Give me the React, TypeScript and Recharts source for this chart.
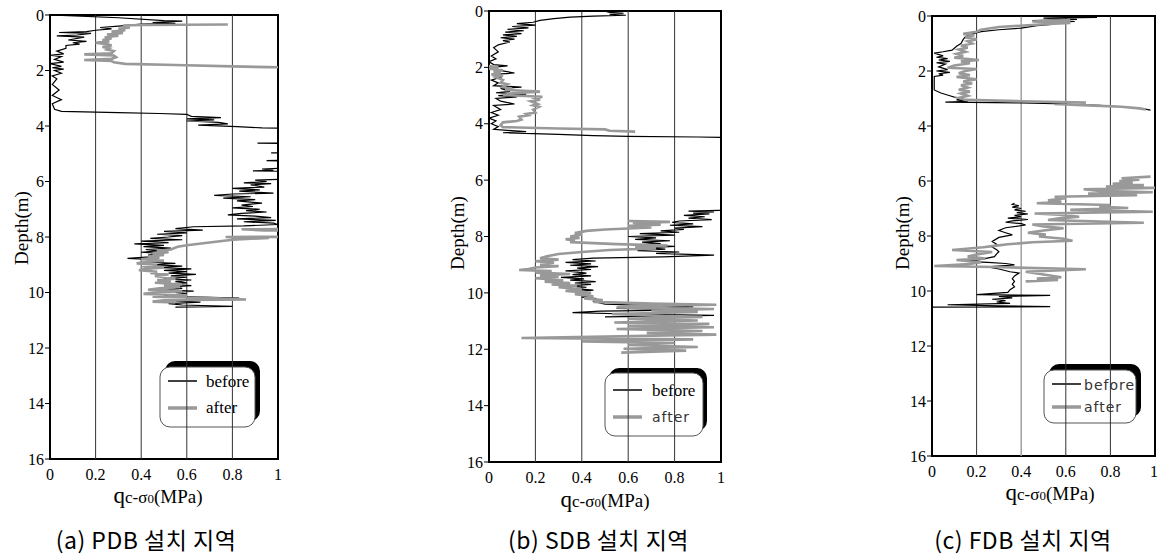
import { LineChart, Line, XAxis, YAxis, ReferenceLine, ReferenceArea, Customized } from 'recharts'

type Pt = [number, number]

const depthTicks = [0, 2, 4, 6, 8, 10, 12, 14, 16]
const qTicks = [0, 0.2, 0.4, 0.6, 0.8, 1]
const captions = ['(a) PDB 설치 지역', '(b) SDB 설치 지역', '(c) FDB 설치 지역']

// [depth (m), qc - sigma0 (MPa)]; values past 1 run off the frame and get clipped.
// Each series is a list of runs; a new run starts where the record has a gap.
const aBefore: Pt[][] = [[
  [0, 0], [0.02, 0.08], [0.1, 0.3], [0.2, 0.5], [0.22, 0.58], [0.27, 0.45], [0.3, 0.55], [0.33, 0.4],
  [0.4, 0.3], [0.45, 0.22], [0.5, 0.27], [0.55, 0.2], [0.6, 0.16], [0.63, 0.04], [0.66, 0.18], [0.72, 0.12],
  [0.75, 0.03], [0.8, 0.15], [0.9, 0.08], [0.95, 0.16], [1.0, 0.1], [1.05, 0.13], [1.1, 0.07], [1.2, 0.07],
  [1.3, 0.03], [1.4, 0.06], [1.45, 0.0], [1.5, 0.05], [1.6, 0.02], [1.7, 0.06], [1.75, 0.0], [1.85, 0.05],
  [1.9, 0.01], [1.95, 0.06], [2.0, 0.02], [2.1, 0.05], [2.2, 0.01], [2.3, 0.03], [2.5, 0.01], [2.7, 0.04],
  [2.9, 0.01], [3.05, 0.05], [3.2, 0.01], [3.4, 0.02], [3.47, 0.05], [3.52, 0.3], [3.55, 0.48], [3.58, 0.6],
  [3.65, 0.62], [3.7, 0.75], [3.74, 0.6], [3.78, 0.72], [3.82, 0.6], [3.87, 0.74], [3.92, 0.78], [3.97, 0.65],
  [4.02, 0.82], [4.07, 0.93], [4.1, 1.5], [4.6, 1.5], [4.62, 0.91], [4.65, 1.5], [4.95, 1.5], [4.97, 0.97],
  [5.0, 1.5], [5.2, 1.2], [5.25, 0.95], [5.3, 1.1], [5.5, 1.1], [5.55, 0.93], [5.6, 0.98], [5.62, 0.89],
  [5.65, 1.2], [5.9, 1.1], [5.95, 0.9], [6.0, 0.95], [6.05, 0.85], [6.08, 0.97], [6.12, 0.88], [6.2, 0.94],
  [6.25, 0.8], [6.3, 0.92], [6.35, 0.83], [6.42, 0.98], [6.45, 0.8], [6.5, 0.72], [6.55, 0.88], [6.6, 0.76],
  [6.65, 0.9], [6.7, 0.82], [6.78, 0.93], [6.85, 0.84], [6.9, 0.89], [6.95, 0.8], [7.0, 0.92], [7.05, 0.86],
  [7.1, 0.95], [7.15, 0.84], [7.2, 0.78], [7.25, 0.9], [7.3, 0.97], [7.35, 0.82], [7.4, 0.99], [7.45, 0.85],
  [7.5, 0.98], [7.55, 1.0], [7.6, 0.85], [7.63, 0.63], [7.7, 0.55], [7.75, 0.67], [7.8, 0.5], [7.85, 0.6],
  [7.9, 0.47], [7.95, 0.58], [8.0, 0.52], [8.05, 0.44], [8.1, 0.58], [8.15, 0.4], [8.2, 0.52], [8.25, 0.37],
  [8.3, 0.5], [8.35, 0.41], [8.4, 0.53], [8.45, 0.42], [8.5, 0.47], [8.55, 0.4], [8.6, 0.5], [8.65, 0.43],
  [8.7, 0.47], [8.77, 0.34], [8.82, 0.46], [8.9, 0.42], [8.95, 0.55], [9.0, 0.45], [9.05, 0.58], [9.1, 0.47],
  [9.15, 0.62], [9.2, 0.5], [9.25, 0.6], [9.3, 0.52], [9.35, 0.64], [9.4, 0.53], [9.45, 0.6], [9.5, 0.5],
  [9.55, 0.62], [9.6, 0.55], [9.65, 0.6], [9.7, 0.5], [9.75, 0.62], [9.8, 0.53], [9.85, 0.58], [9.9, 0.49],
  [9.95, 0.63], [10.0, 0.55], [10.05, 0.6], [10.1, 0.5], [10.15, 0.58], [10.2, 0.83], [10.25, 0.6], [10.3, 0.55],
  [10.35, 0.66], [10.4, 0.52], [10.45, 0.58], [10.5, 0.8], [10.53, 0.55],
]]

const aAfter: Pt[][] = [[
  [0.34, 0.78], [0.36, 0.4], [0.38, 0.32], [0.45, 0.35], [0.5, 0.3], [0.55, 0.33], [0.6, 0.27], [0.65, 0.32],
  [0.7, 0.25], [0.75, 0.3], [0.8, 0.24], [0.85, 0.27], [0.9, 0.23], [0.95, 0.26], [1.0, 0.2], [1.05, 0.25],
  [1.1, 0.27], [1.15, 0.23], [1.2, 0.26], [1.25, 0.25], [1.3, 0.28], [1.38, 0.27], [1.42, 0.15], [1.46, 0.28],
  [1.52, 0.29], [1.58, 0.27], [1.62, 0.15], [1.66, 0.27], [1.7, 0.28], [1.76, 0.33], [1.8, 0.55], [1.85, 0.8],
  [1.88, 0.96], [1.9, 1.5], [7.7, 1.5], [7.72, 0.84], [7.76, 0.94], [7.78, 1.5], [7.98, 1.5], [8.0, 0.77],
  [8.03, 0.96], [8.1, 0.8], [8.2, 0.7], [8.3, 0.6], [8.35, 0.56], [8.45, 0.53], [8.5, 0.47], [8.55, 0.52],
  [8.6, 0.45], [8.65, 0.5], [8.7, 0.43], [8.75, 0.48], [8.8, 0.4], [8.85, 0.5], [8.9, 0.42], [8.95, 0.38],
  [9.0, 0.47], [9.05, 0.4], [9.1, 0.5], [9.15, 0.42], [9.2, 0.39], [9.25, 0.47], [9.3, 0.44], [9.35, 0.52],
  [9.4, 0.46], [9.5, 0.55], [9.55, 0.47], [9.6, 0.53], [9.65, 0.46], [9.7, 0.58], [9.75, 0.5], [9.8, 0.57],
  [9.85, 0.48], [9.9, 0.43], [9.95, 0.58], [10.0, 0.46], [10.05, 0.41], [10.1, 0.6], [10.15, 0.45], [10.2, 0.7],
  [10.25, 0.86], [10.28, 0.5], [10.33, 0.45], [10.36, 0.55],
]]

const bBefore: Pt[][] = [[
  [0, 0], [0.01, 0.5], [0.05, 0.52], [0.08, 0.58], [0.12, 0.52], [0.15, 0.59], [0.18, 0.45], [0.22, 0.35],
  [0.27, 0.28], [0.33, 0.22], [0.4, 0.19], [0.45, 0.12], [0.5, 0.2], [0.55, 0.1], [0.6, 0.17], [0.65, 0.08],
  [0.7, 0.15], [0.75, 0.07], [0.8, 0.14], [0.85, 0.06], [0.9, 0.12], [0.95, 0.05], [1.0, 0.11], [1.05, 0.06],
  [1.1, 0.09], [1.2, 0.04], [1.3, 0.02], [1.45, 0.04], [1.6, 0.01], [1.7, 0.03], [1.8, 0.0], [1.9, 0.02],
  [1.95, 0.08], [2.0, 0.01], [2.1, 0.04], [2.2, 0.11], [2.25, 0.02], [2.35, 0.05], [2.45, 0.01], [2.55, 0.04],
  [2.65, 0.02], [2.7, 0.14], [2.75, 0.05], [2.85, 0.09], [2.9, 0.03], [2.95, 0.16], [3.0, 0.04], [3.05, 0.12],
  [3.1, 0.03], [3.2, 0.05], [3.3, 0.11], [3.35, 0.02], [3.5, 0.05], [3.6, 0.01], [3.7, 0.04], [3.8, 0.0],
  [3.9, 0.03], [4.0, 0.01], [4.1, 0.04], [4.2, 0.02], [4.28, 0.16], [4.32, 0.06], [4.38, 0.3], [4.42, 0.45],
  [4.45, 0.6], [4.47, 0.9], [4.48, 1.0], [4.5, 1.5], [7.05, 1.5], [7.07, 0.99], [7.1, 0.86], [7.13, 0.97],
  [7.17, 0.88], [7.2, 0.95], [7.25, 0.84], [7.3, 0.93], [7.35, 0.86], [7.4, 0.96], [7.45, 0.82], [7.5, 0.79],
  [7.55, 0.88], [7.6, 0.78], [7.65, 0.92], [7.7, 0.8], [7.75, 0.84], [7.8, 0.74], [7.85, 0.82], [7.9, 0.65],
  [7.95, 0.8], [8.0, 0.6], [8.05, 0.72], [8.1, 0.63], [8.15, 0.78], [8.2, 0.66], [8.25, 0.74], [8.3, 0.62],
  [8.35, 0.8], [8.4, 0.68], [8.45, 0.76], [8.5, 0.64], [8.55, 0.82], [8.6, 0.72], [8.66, 0.97], [8.72, 0.75],
  [8.77, 0.45], [8.82, 0.36], [8.87, 0.46], [8.92, 0.33], [8.97, 0.44], [9.02, 0.35], [9.07, 0.47], [9.12, 0.38],
  [9.17, 0.44], [9.22, 0.33], [9.3, 0.42], [9.35, 0.36], [9.4, 0.44], [9.45, 0.31], [9.5, 0.41], [9.55, 0.35],
  [9.6, 0.46], [9.65, 0.37], [9.7, 0.44], [9.75, 0.34], [9.8, 0.42], [9.85, 0.37], [9.9, 0.45], [9.95, 0.39],
  [10.0, 0.43], [10.05, 0.38], [10.1, 0.44], [10.15, 0.4], [10.2, 0.46], [10.3, 0.45], [10.4, 0.5], [10.5, 0.88],
  [10.55, 0.55], [10.6, 0.9], [10.65, 0.48], [10.7, 0.36], [10.75, 0.6], [10.8, 0.97], [10.85, 0.5],
]]

const bAfter: Pt[][] = [
  [
    [1.95, 0.0], [2.0, 0.04], [2.05, 0.0], [2.1, 0.06], [2.15, 0.02], [2.2, 0.05], [2.25, 0.01], [2.3, 0.06],
    [2.35, 0.03], [2.45, 0.06], [2.55, 0.05], [2.6, 0.08], [2.7, 0.06], [2.75, 0.1], [2.8, 0.07], [2.86, 0.22],
    [2.92, 0.1], [2.98, 0.06], [3.04, 0.23], [3.1, 0.2], [3.15, 0.22], [3.2, 0.18], [3.3, 0.21], [3.35, 0.19],
    [3.4, 0.215], [3.5, 0.19], [3.6, 0.2], [3.65, 0.16], [3.7, 0.17], [3.75, 0.13], [3.85, 0.14], [3.9, 0.12],
    [3.95, 0.06], [4.05, 0.05], [4.12, 0.06], [4.17, 0.3], [4.2, 0.5], [4.25, 0.52], [4.28, 0.63],
  ],
  [
    [7.45, 0.6], [7.48, 0.78], [7.52, 0.62], [7.58, 0.74], [7.62, 0.6], [7.68, 0.7], [7.75, 0.5], [7.8, 0.42],
    [7.88, 0.37], [7.93, 0.4], [8.0, 0.35], [8.05, 0.39], [8.1, 0.33], [8.15, 0.37], [8.2, 0.35], [8.27, 0.55],
    [8.32, 0.77], [8.36, 0.63], [8.42, 0.72], [8.48, 0.52], [8.55, 0.4], [8.62, 0.3], [8.7, 0.25], [8.77, 0.22],
    [8.82, 0.3], [8.88, 0.2], [8.93, 0.28], [9.0, 0.22], [9.05, 0.3], [9.1, 0.2], [9.15, 0.17], [9.19, 0.13],
    [9.23, 0.27], [9.28, 0.2], [9.33, 0.35], [9.38, 0.22], [9.43, 0.3], [9.48, 0.2], [9.55, 0.32], [9.6, 0.24],
    [9.65, 0.35], [9.7, 0.27], [9.75, 0.38], [9.8, 0.3], [9.87, 0.4], [9.93, 0.33], [10.0, 0.44], [10.05, 0.37],
    [10.12, 0.45], [10.2, 0.41], [10.25, 0.49], [10.32, 0.45], [10.38, 0.7], [10.42, 0.98], [10.47, 0.6],
    [10.52, 0.55], [10.57, 0.97], [10.62, 0.7], [10.68, 0.9], [10.75, 0.53], [10.8, 0.68], [10.85, 0.92],
    [10.92, 0.6], [10.98, 0.9], [11.05, 0.54], [11.1, 0.95], [11.17, 0.6], [11.22, 0.97], [11.28, 0.55],
    [11.35, 0.92], [11.42, 0.68], [11.48, 0.98], [11.55, 0.5], [11.6, 0.14], [11.65, 0.88], [11.72, 0.4],
    [11.78, 0.8], [11.85, 0.6], [11.92, 0.9], [11.98, 0.58], [12.05, 0.85], [12.12, 0.57],
  ],
]

const cBefore: Pt[][] = [
  [
    [0, 0], [0.01, 0.45], [0.03, 0.6], [0.05, 0.74], [0.08, 0.5], [0.12, 0.65], [0.17, 0.45], [0.2, 0.64],
    [0.25, 0.5], [0.3, 0.55], [0.35, 0.47], [0.44, 0.4], [0.5, 0.3], [0.57, 0.22], [0.65, 0.18], [0.75, 0.15],
    [0.85, 0.14], [1.0, 0.13], [1.1, 0.11], [1.24, 0.09], [1.3, 0.05], [1.35, 0.01], [1.45, 0.05], [1.5, 0.02],
    [1.55, 0.07], [1.6, 0.03], [1.65, 0.08], [1.7, 0.02], [1.75, 0.06], [1.85, 0.03], [1.95, 0.07], [2.0, 0.02],
    [2.05, 0.08], [2.1, 0.03], [2.15, 0.05], [2.2, 0.01], [2.4, 0.01], [2.69, 0.01], [2.8, 0.04], [2.9, 0.08],
    [2.95, 0.1], [3.0, 0.14], [3.05, 0.11], [3.1, 0.16], [3.13, 0.06], [3.16, 0.4], [3.2, 0.6], [3.25, 0.75],
    [3.3, 0.85], [3.38, 0.95], [3.42, 0.98],
  ],
  [
    [6.81, 0.37], [6.85, 0.36], [6.9, 0.39], [6.95, 0.36], [7.0, 0.4], [7.05, 0.37], [7.1, 0.42], [7.15, 0.38],
    [7.2, 0.43], [7.25, 0.37], [7.3, 0.4], [7.35, 0.34], [7.4, 0.43], [7.45, 0.36], [7.5, 0.33], [7.55, 0.4],
    [7.6, 0.42], [7.7, 0.33], [7.8, 0.3], [7.88, 0.33], [7.96, 0.36], [8.05, 0.3], [8.15, 0.28], [8.2, 0.27],
    [8.3, 0.29], [8.4, 0.27], [8.5, 0.29], [8.57, 0.3], [8.65, 0.29], [8.75, 0.28], [8.87, 0.21], [8.92, 0.15],
    [8.96, 0.25], [9.0, 0.33], [9.05, 0.37], [9.12, 0.25], [9.2, 0.3], [9.3, 0.35], [9.35, 0.39], [9.45, 0.37],
    [9.55, 0.36], [9.65, 0.37], [9.75, 0.36], [9.85, 0.37], [9.95, 0.35], [10.05, 0.34], [10.13, 0.2],
    [10.16, 0.53], [10.2, 0.3], [10.25, 0.36], [10.3, 0.27], [10.35, 0.33], [10.4, 0.29], [10.45, 0.35],
    [10.5, 0.07], [10.54, 0.3], [10.57, 0.53], [10.59, 0.0],
  ],
]

const cAfter: Pt[][] = [
  [
    [0.15, 0.62], [0.2, 0.45], [0.25, 0.62], [0.3, 0.5], [0.4, 0.3], [0.5, 0.22], [0.57, 0.2], [0.65, 0.14],
    [0.7, 0.19], [0.78, 0.15], [0.85, 0.2], [0.92, 0.16], [1.0, 0.18], [1.08, 0.13], [1.15, 0.16], [1.22, 0.12],
    [1.3, 0.15], [1.38, 0.11], [1.45, 0.14], [1.52, 0.1], [1.6, 0.21], [1.65, 0.13], [1.72, 0.17], [1.8, 0.1],
    [1.88, 0.07], [1.93, 0.2], [2.0, 0.15], [2.08, 0.12], [2.15, 0.17], [2.22, 0.11], [2.3, 0.2], [2.38, 0.14],
    [2.45, 0.18], [2.52, 0.13], [2.6, 0.16], [2.68, 0.12], [2.75, 0.17], [2.82, 0.13], [2.9, 0.16], [2.98, 0.12],
    [3.05, 0.15], [3.1, 0.4], [3.15, 0.69], [3.2, 0.55], [3.25, 0.7], [3.3, 0.85], [3.36, 0.93], [3.4, 0.96],
  ],
  [
    [5.84, 0.98], [5.9, 0.85], [5.95, 0.93], [6.0, 0.84], [6.05, 0.9], [6.1, 0.81], [6.15, 0.95], [6.2, 0.78],
    [6.25, 1.0], [6.3, 0.68], [6.36, 0.75], [6.41, 0.99], [6.46, 0.7], [6.52, 0.92], [6.57, 0.55], [6.63, 0.6],
    [6.7, 0.52], [6.76, 0.58], [6.81, 0.47], [6.87, 0.8], [6.93, 0.75], [6.98, 0.88], [7.05, 0.62], [7.12, 0.99],
    [7.18, 0.46], [7.23, 0.57], [7.3, 0.66], [7.36, 0.57], [7.42, 0.52], [7.52, 0.95], [7.58, 0.45], [7.65, 0.5],
    [7.72, 0.59], [7.8, 0.5], [7.88, 0.43], [7.95, 0.51], [8.02, 0.48], [8.1, 0.59], [8.17, 0.63], [8.23, 0.45],
    [8.3, 0.34], [8.36, 0.28], [8.41, 0.23], [8.51, 0.09], [8.58, 0.27], [8.67, 0.2], [8.75, 0.16], [8.82, 0.24],
    [8.87, 0.11], [8.95, 0.22], [9.02, 0.17], [9.09, 0.01], [9.13, 0.28], [9.21, 0.69], [9.3, 0.42], [9.4, 0.5],
    [9.5, 0.58], [9.55, 0.47], [9.6, 0.565], [9.65, 0.42],
  ],
]

const rows = (pts: Pt[]) => pts.map(([d, q]) => ({ d, q }))

const SERIF = '"Liberation Serif", "Times New Roman", serif'
const SANS = '"DejaVu Sans", sans-serif'
const KR = '"Noto Sans CJK KR", "Noto Sans", sans-serif'
const H = 557

interface LegendSpec {
  x: number
  y: number
  w: number
  h: number
  sx: number
  sy: number
  lineX: number
  textX: number
  beforeY: number
  afterY: number
  beforeFont: string
  afterFont: string
  fontSize: number
}

interface PanelProps {
  left: number
  width: number
  margin: { top: number; right: number; bottom: number; left: number }
  before: Pt[][]
  after: Pt[][]
  caption: string
  depthX: number
  depthY: number
  titleX: number
  titleY: number
  captionX: number
  legend: LegendSpec
  greyMid?: boolean
}

function Overlay({ p }: { p: PanelProps }) {
  const L = p.legend
  const sans = (f: string) => f === SANS
  return (
    <g>
      <text
        x={p.depthX}
        y={p.depthY}
        transform={`rotate(-90 ${p.depthX} ${p.depthY})`}
        textAnchor="middle"
        dominantBaseline="central"
        fontFamily={SERIF}
        fontSize={19}
        fill="#000"
      >
        Depth(m)
      </text>
      <text x={p.titleX} y={p.titleY} textAnchor="middle" fontFamily={SERIF} fill="#000">
        <tspan fontSize={23}>q</tspan>
        <tspan fontSize={17}>c-σ</tspan>
        <tspan fontSize={13}>0</tspan>
        <tspan fontSize={19}>(MPa)</tspan>
      </text>
      <text x={p.captionX} y={549} textAnchor="middle" fontFamily={KR} fontSize={23} letterSpacing={0.5} fill="#000">
        {p.caption}
      </text>
      <rect x={L.x + L.sx} y={L.y + L.sy} width={L.w} height={L.h} rx={10} fill="#000" />
      <rect x={L.x} y={L.y} width={L.w} height={L.h} rx={10} fill="#fff" stroke="#555" strokeWidth={1} />
      <line x1={L.lineX} x2={L.lineX + 29} y1={L.beforeY} y2={L.beforeY} stroke="#000" strokeWidth={1.5} />
      <line x1={L.lineX} x2={L.lineX + 29} y1={L.afterY} y2={L.afterY} stroke="#999" strokeWidth={3.5} />
      <text
        x={L.textX}
        y={L.beforeY + 6}
        fontFamily={L.beforeFont}
        fontSize={sans(L.beforeFont) ? L.fontSize - 3 : L.fontSize}
        letterSpacing={sans(L.beforeFont) ? 1 : 0}
        fill={sans(L.beforeFont) ? '#333' : '#000'}
      >
        before
      </text>
      <text
        x={L.textX}
        y={L.afterY + 5}
        fontFamily={L.afterFont}
        fontSize={sans(L.afterFont) ? L.fontSize - 3 : L.fontSize}
        letterSpacing={sans(L.afterFont) ? 1 : 0}
        fill={sans(L.afterFont) ? '#333' : '#000'}
      >
        after
      </text>
    </g>
  )
}

function Panel(p: PanelProps) {
  return (
    <div style={{ position: 'absolute', left: p.left, top: 0 }}>
      <LineChart width={p.width} height={H} layout="vertical" margin={p.margin}>
        <XAxis
          type="number"
          domain={[0, 1]}
          ticks={qTicks}
          allowDataOverflow
          axisLine={false}
          tickLine={false}
          tickSize={0}
          tickMargin={10}
          height={30}
          tick={{ fill: '#000', fontSize: 16, fontFamily: SERIF }}
        />
        <YAxis
          type="number"
          dataKey="d"
          domain={[0, 16]}
          ticks={depthTicks}
          interval={0}
          allowDataOverflow
          width={40}
          axisLine={false}
          tickLine={{ stroke: '#000' }}
          tickSize={5}
          tickMargin={1}
          tick={{ fill: '#000', fontSize: 16, fontFamily: SERIF }}
        />
        {[0.2, 0.4, 0.6, 0.8].map((v) => (
          <ReferenceLine
            key={v}
            x={v}
            stroke={p.greyMid && v === 0.4 ? '#a0a0a0' : '#333'}
            strokeWidth={p.greyMid && v === 0.4 ? 1.5 : 1}
          />
        ))}
        {p.before.map((run, i) => (
          <Line
            key={`b${i}`}
            data={rows(run)}
            dataKey="q"
            type="linear"
            stroke="#000"
            strokeWidth={1.2}
            dot={false}
            isAnimationActive={false}
          />
        ))}
        {p.after.map((run, i) => (
          <Line
            key={`a${i}`}
            data={rows(run)}
            dataKey="q"
            type="linear"
            stroke="#999"
            strokeWidth={2.6}
            dot={false}
            isAnimationActive={false}
          />
        ))}
        <ReferenceArea x1={0} x2={1} y1={0} y2={16} fill="none" stroke="#000" strokeWidth={2} />
        <Customized component={() => <Overlay p={p} />} />
      </LineChart>
    </div>
  )
}

const panels: PanelProps[] = [
  {
    left: 0,
    width: 300,
    margin: { top: 15, right: 22, bottom: 68, left: 10 },
    before: aBefore,
    after: aAfter,
    caption: captions[0],
    depthX: 21.5,
    depthY: 228,
    titleX: 158,
    titleY: 503,
    captionX: 146,
    legend: {
      x: 160, y: 367, w: 95, h: 60, sx: 5, sy: -6, lineX: 168, textX: 206,
      beforeY: 381, afterY: 408, beforeFont: SERIF, afterFont: SERIF, fontSize: 17,
    },
  },
  {
    left: 430,
    width: 300,
    margin: { top: 11, right: 9, bottom: 65, left: 19 },
    before: bBefore,
    after: bAfter,
    caption: captions[1],
    depthX: 27,
    depthY: 233,
    titleX: 175,
    titleY: 507,
    captionX: 168.5,
    legend: {
      x: 175, y: 373, w: 98, h: 63, sx: 4, sy: -5, lineX: 183, textX: 222,
      beforeY: 390, afterY: 417, beforeFont: SERIF, afterFont: SANS, fontSize: 17,
    },
  },
  {
    left: 860,
    width: 298,
    margin: { top: 16, right: 3, bottom: 71, left: 32 },
    before: cBefore,
    after: cAfter,
    caption: captions[2],
    depthX: 42,
    depthY: 233,
    titleX: 190,
    titleY: 500,
    captionX: 163,
    greyMid: true,
    legend: {
      x: 184, y: 370, w: 92, h: 53, sx: 5, sy: -6, lineX: 192, textX: 224,
      beforeY: 384, afterY: 407, beforeFont: SANS, afterFont: SANS, fontSize: 17,
    },
  },
]

export default function App() {
  return (
    <div style={{ position: 'absolute', left: 0, top: 0, width: 1158, height: H, background: '#fff' }}>
      {panels.map((p) => (
        <Panel key={p.caption} {...p} />
      ))}
    </div>
  )
}
